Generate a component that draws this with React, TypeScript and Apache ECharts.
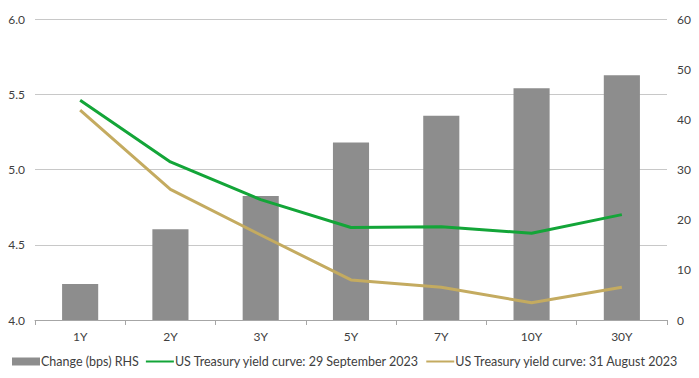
import React, { useEffect, useRef } from "react";
import * as echarts from "echarts";

const categories = ["1Y", "2Y", "3Y", "5Y", "7Y", "10Y", "30Y"];
const changeBps = [7.2, 18.1, 24.7, 35.4, 40.7, 46.2, 48.8];
const yieldSep = [5.46, 5.05, 4.8, 4.615, 4.62, 4.576, 4.7];
const yieldAug = [5.395, 4.868, 4.565, 4.266, 4.217, 4.115, 4.217];

const FONT = "Lato, 'DejaVu Sans', sans-serif";

export default function App() {
  const ref = useRef<HTMLDivElement>(null);
  useEffect(() => {
    if (!ref.current) return;
    const chart = echarts.init(ref.current, undefined, { renderer: "svg" });
    chart.setOption({
      animation: false,
      grid: { left: 35, right: 32, top: 19, bottom: 58 },
      legend: {
        bottom: 10,
        left: 12,
        width: 687,
        padding: 0,
        itemGap: 6,
        itemWidth: 28,
        itemHeight: 8,
        textStyle: { fontFamily: FONT, fontSize: 12.5, color: "#404040", padding: [0, 0, 0, -4] },
        data: [
          { name: "Change (bps) RHS", icon: "rect" },
          { name: "US Treasury yield curve: 29 September 2023", itemStyle: { opacity: 0 } },
          { name: "US Treasury yield curve: 31 August 2023", itemStyle: { opacity: 0 } },
        ],
      },
      xAxis: {
        type: "category",
        data: categories,
        boundaryGap: true,
        axisLine: { lineStyle: { color: "#a6a6a6" } },
        axisTick: { show: true, length: 5, lineStyle: { color: "#a6a6a6" } },
        axisLabel: { fontFamily: FONT, fontSize: 12, color: "#404040", margin: 10 },
      },
      yAxis: [
        {
          type: "value",
          min: 4.0,
          max: 6.0,
          interval: 0.5,
          axisLine: { show: false },
          axisTick: { show: false },
          splitLine: { lineStyle: { color: "#c8c8c8" } },
          axisLabel: {
            fontFamily: FONT,
            fontSize: 12,
            color: "#404040",
            margin: 10,
            formatter: (v: number) => v.toFixed(1),
          },
        },
        {
          type: "value",
          min: 0,
          max: 60,
          interval: 10,
          position: "right",
          axisLine: { show: false },
          axisTick: { show: false },
          splitLine: { show: false },
          axisLabel: { fontFamily: FONT, fontSize: 12, color: "#404040", margin: 10 },
        },
      ],
      series: [
        {
          name: "Change (bps) RHS",
          type: "bar",
          yAxisIndex: 1,
          data: changeBps,
          barWidth: "40%",
          itemStyle: { color: "#8d8d8d" },
        },
        {
          name: "US Treasury yield curve: 29 September 2023",
          type: "line",
          yAxisIndex: 0,
          data: yieldSep,
          symbol: "none",
          lineStyle: { color: "#13a538", width: 3 },
          itemStyle: { color: "#13a538" },
        },
        {
          name: "US Treasury yield curve: 31 August 2023",
          type: "line",
          yAxisIndex: 0,
          data: yieldAug,
          symbol: "none",
          lineStyle: { color: "#c4ab60", width: 3 },
          itemStyle: { color: "#c4ab60" },
        },
      ],
    });
    return () => chart.dispose();
  }, []);
  return <div ref={ref} style={{ width: 699, height: 378, position: "absolute", left: 0, top: 0 }} />;
}
